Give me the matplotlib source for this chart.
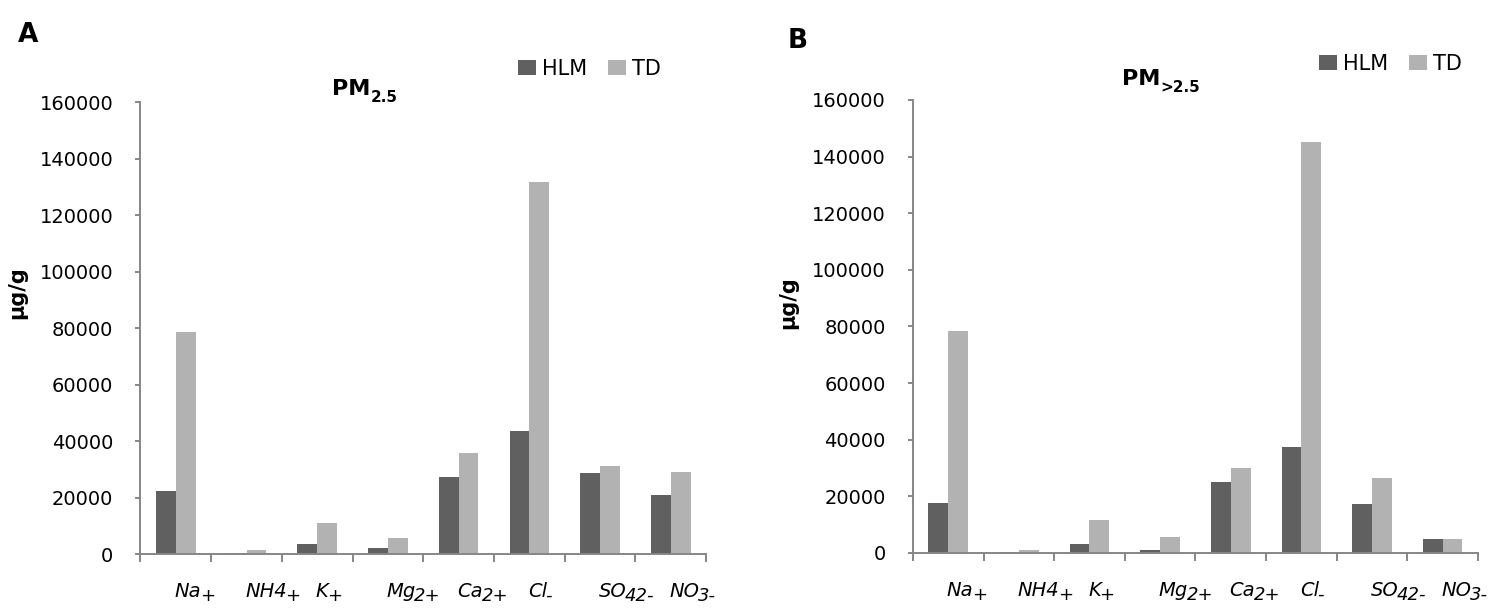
# --- Ion concentrations in PM2.5 and PM>2.5 (HLM vs TD) ---
import numpy as np
import matplotlib.pyplot as plt

plt.rcParams['font.family'] = 'DejaVu Sans'

# --- data ---
ion_main = ['Na', 'NH4', 'K', 'Mg', 'Ca', 'Cl', 'SO', 'NO']
ion_sub = ['+', '+', '+', '2+', '2+', '-', '42-', '3-']
series = ['HLM', 'TD']

hlm_fine = [22400, 200, 3400, 2100, 27200, 43500, 28500, 21000]
td_fine = [78500, 1300, 10900, 5500, 35600, 131800, 31000, 29000]

hlm_coarse = [17600, 200, 3300, 1100, 24900, 37600, 17400, 5000]
td_coarse = [78400, 1200, 11700, 5700, 29900, 145000, 26400, 5000]

yticks = np.arange(0, 160001, 20000)

colors = ['#606060', '#b2b2b2']
axis_col = '#868686'

fig = plt.figure(figsize=(15.09, 6.08), dpi=100)
axA = fig.add_axes([0.0931, 0.0888, 0.3748, 0.7434])
axB = fig.add_axes([0.6050, 0.0905, 0.3744, 0.7451])

x = np.arange(len(ion_main))
w = 0.28

for ax, hlm, td in [(axA, hlm_fine, td_fine), (axB, hlm_coarse, td_coarse)]:
    ax.bar(x - w/2, hlm, w, color=colors[0], label=series[0])
    ax.bar(x + w/2, td, w, color=colors[1], label=series[1])
    ax.set_xlim(-0.5, len(ion_main) - 0.5)
    ax.set_ylim(0, 160000)
    ax.set_yticks(yticks)
    ax.set_yticklabels([str(v) for v in yticks], fontsize=14)
    ax.set_xticks([])
    ax.set_xticks(np.arange(-0.5, len(ion_main)), minor=True)
    ax.tick_params(axis='x', which='minor', length=6, width=1.4, color=axis_col)
    ax.tick_params(axis='y', length=3.6, width=1.4, color=axis_col, pad=16)
    for s in ['top', 'right']:
        ax.spines[s].set_visible(False)
    for s in ['left', 'bottom']:
        ax.spines[s].set_color(axis_col)
        ax.spines[s].set_linewidth(1.4)

    # category labels: italic, with a lowered charge part
    for i in x:
        main = ax.annotate(ion_main[i], xy=(i, 0), xycoords=ax.get_xaxis_transform(),
                           xytext=(-1, -20), textcoords='offset points',
                           ha='left', va='top', fontsize=14, fontstyle='italic')
        ax.annotate(ion_sub[i], xy=(1, 0), xycoords=main,
                    xytext=(-1, -3), textcoords='offset points',
                    ha='left', va='bottom', fontsize=13, fontstyle='italic')

legA = axA.legend(ncol=2, frameon=False, fontsize=15, handlelength=0.85, handleheight=0.75,
                  handletextpad=0.3, columnspacing=1.0, borderpad=0, borderaxespad=0,
                  loc='center left', bbox_to_anchor=(0.3433, 0.8865), bbox_transform=fig.transFigure)
legB = axB.legend(ncol=2, frameon=False, fontsize=15, handlelength=0.85, handleheight=0.75,
                  handletextpad=0.3, columnspacing=1.0, borderpad=0, borderaxespad=0,
                  loc='center left', bbox_to_anchor=(0.8741, 0.8947), bbox_transform=fig.transFigure)

fig.text(0.0119, 0.931, 'A', fontsize=19, fontweight='bold', va='baseline')
fig.text(0.5222, 0.921, 'B', fontsize=19, fontweight='bold', va='baseline')

for xt, yt, sub in [(0.2200, 0.8438, '2.5'), (0.7435, 0.8602, '>2.5')]:
    t = fig.text(xt, yt, 'PM', fontsize=16, fontweight='bold', va='baseline')
    fig.axes[0].annotate(sub, xy=(1, 0), xycoords=t, xytext=(0, -4), textcoords='offset points',
                         ha='left', va='bottom', fontsize=11, fontweight='bold')

fig.text(0.0115, 1 - 293/608, 'µg/g', fontsize=15, fontweight='bold', rotation=90,
         va='center', ha='center')
fig.text(0.5222, 1 - 303/608, 'µg/g', fontsize=15, fontweight='bold', rotation=90,
         va='center', ha='center')

fig.savefig('out.png', dpi=100)
